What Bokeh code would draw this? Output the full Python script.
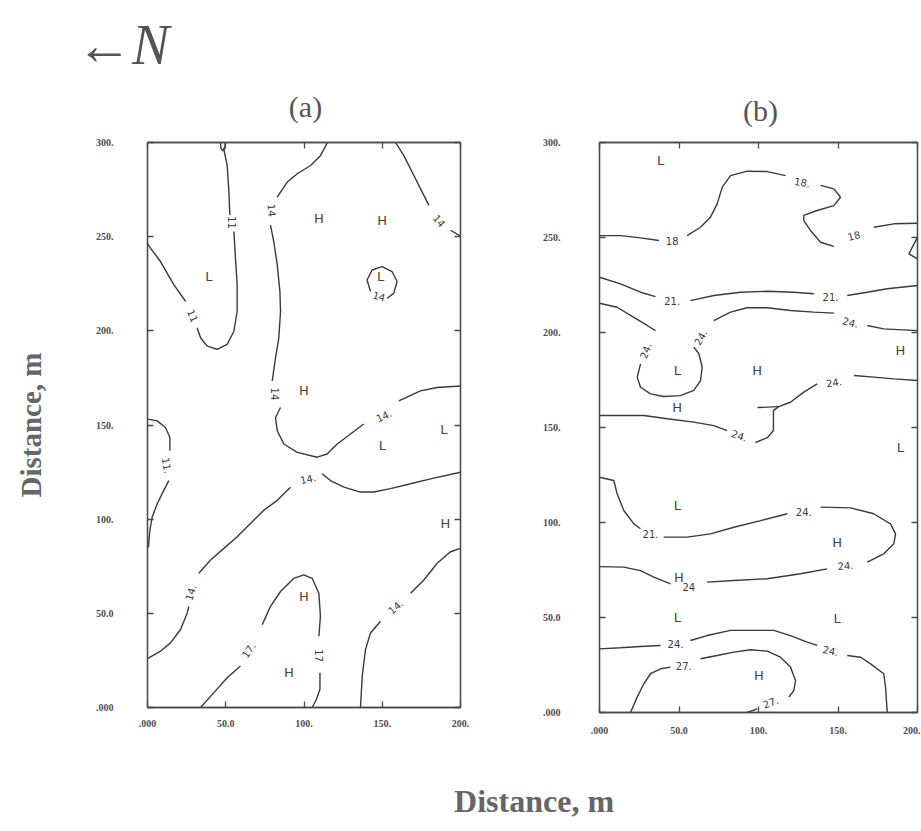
from bokeh.plotting import figure
from bokeh.models import LinearAxis, FixedTicker, ColumnDataSource, Range1d, Label
from bokeh.layouts import row, column
from bokeh.embed import file_html
from bokeh.resources import INLINE
from bokeh.core.properties import value

# ---------------- axes ----------------
X_TICKS = [0, 50, 100, 150, 200]
X_TICK_LABELS = [".000", "50.0", "100.", "150.", "200."]
Y_TICKS = [0, 50, 100, 150, 200, 250, 300]
Y_TICK_LABELS = [".000", "50.0", "100.", "150.", "200.", "250.", "300."]

# ---------------- panel (a) contour lines ----------------
A_LOOP_X = [46.6, 46.9, 48.2, 49.4, 49.6]
A_LOOP_Y = [300, 296.8, 295.6, 296.8, 300]

A11_1_X = [48.6, 50.9, 52.0, 52.6]
A11_1_Y = [297.0, 287.9, 273.8, 261.5]
A11_2_X = [55.2, 56.2, 57.3, 57.3, 55.2, 50.9, 44.5, 38.1, 33.9, 31.7]
A11_2_Y = [252.7, 238.6, 224.5, 210.4, 199.8, 192.8, 190.2, 191.9, 196.3, 201.6]
A11_3_X = [24.3, 16.8, 8.3, 1.9, 0]
A11_3_Y = [215.7, 224.5, 236.8, 243.9, 246.5]

A14M_1_X = [115, 110.5, 104.2, 95.7, 89.3, 85.0, 82.9]
A14M_1_Y = [300, 293.0, 287.8, 283.4, 279.0, 273.7, 271.0]
A14M_2_X = [78.6, 80.7, 82.9, 84.6, 85.0, 83.9, 81.8, 79.7]
A14M_2_Y = [256.1, 247.3, 235.0, 220.9, 210.3, 196.2, 185.7, 173.4]
A14M_3_X = [85.0, 81.8, 82.9, 87.1, 95.7, 108.4, 114.8, 121.2, 129.7, 138.2]
A14M_3_Y = [159.3, 154.0, 147.0, 139.9, 135.5, 132.9, 134.6, 139.9, 145.2, 150.5]
A14M_4_X = [160.6, 174.4, 185.1, 200]
A14M_4_Y = [162.8, 168.1, 169.9, 170.7]

A14R_1_X = [158.5, 163.8, 170.2, 176.6, 179.8]
A14R_1_Y = [300, 293.0, 282.5, 271.9, 266.6]
A14R_2_X = [193.6, 199.0, 200]
A14R_2_Y = [253.4, 250.8, 250.3]

A14C_X = [142.5, 140.3, 143.5, 149.9, 156.3, 159.5, 157.4, 153.2]
A14C_Y = [220.9, 227.0, 232.3, 234.1, 231.4, 226.2, 220.0, 217.3]

A11L_1_X = [0, 6.2, 11.5, 14.3, 14.3]
A11L_1_Y = [153.1, 152.2, 148.7, 143.4, 136.4]
A11L_2_X = [13.6, 10.4, 6.2, 3.0, 1.5, 0.6]
A11L_2_Y = [120.5, 115.3, 108.2, 101.2, 94.1, 85.0]

A14D_1_X = [0, 8.3, 14.7, 21.1, 25.4, 26.4]
A14D_1_Y = [26.0, 29.9, 34.3, 41.4, 50.2, 53.7]
A14D_2_X = [32.8, 40.3, 48.8, 57.3, 65.8, 74.3, 82.9, 91.4]
A14D_2_Y = [71.3, 78.3, 84.5, 90.7, 97.7, 104.7, 110.0, 117.0]
A14D_3_X = [111.6, 116.9, 125.5, 136.1, 144.6, 155.3, 168.1, 180.8, 200]
A14D_3_Y = [124.1, 120.5, 117.0, 114.4, 114.4, 116.2, 118.8, 121.4, 124.9]

A17_1_X = [33.9, 42.4, 50.9, 59.4]
A17_1_Y = [0, 7.9, 15.8, 22.0]
A17_2_X = [73.3, 78.6, 85.0, 93.5, 99.9, 105.2, 109.5, 110.5, 109.5]
A17_2_Y = [44.0, 53.7, 61.6, 68.6, 70.4, 68.6, 60.7, 48.4, 37.8]
A17_3_X = [110.2, 110.2, 108.0, 105.2]
A17_3_Y = [18.5, 9.7, 4.4, 0]

A14B_1_X = [136.1, 137.2, 139.3, 142.5, 148.9]
A14B_1_Y = [0, 16.7, 30.8, 39.6, 45.8]
A14B_2_X = [168.1, 176.6, 185.1, 193.6, 200]
A14B_2_Y = [60.7, 67.7, 76.6, 82.7, 84.5]

A_LAB_X = [54.2, 29.0, 79.5, 81.5, 151.0, 186.5, 148.0, 12.5, 27.5, 102.5, 64.5, 109.8, 158.5]
A_LAB_Y = [257.5, 208.0, 264.0, 166.5, 155.0, 258.5, 218.5, 128.5, 61.0, 121.5, 30.5, 27.5, 53.5]
A_LAB_TEXT = ["11", "11", "14", "14", "14.", "14", "14", "11.", "14.", "14.", "17.", "17", "14."]
A_LAB_ANGLE = [-90, -66, -85, -90, 25, -50, -15, -80, 72, 12, 55, -90, 40]

A_H_X = [109.5, 150.0, 99.9, 190.4, 99.9, 90.3]
A_H_Y = [259.6, 258.7, 168.1, 97.7, 59.0, 18.5]
A_L_X = [39.2, 148.9, 189.4, 150.0]
A_L_Y = [228.8, 228.8, 147.8, 139.0]

# ---------------- panel (b) contour lines ----------------
B18_1_X = [0, 13.2, 25.8, 37.3]
B18_1_Y = [251.0, 251.0, 249.8, 248.4]
B18_2_X = [55.1, 63.5, 69.8, 74.0, 77.2, 82.4, 92.9, 105.5, 117.0]
B18_2_Y = [251.0, 255.4, 260.7, 267.7, 276.5, 282.6, 284.9, 284.7, 282.6]
B18_3_X = [139.0, 147.4, 151.6, 147.4, 136.9, 128.5, 128.5, 132.7, 139.0, 147.4]
B18_3_Y = [277.4, 275.6, 271.2, 266.8, 264.2, 261.6, 258.9, 253.7, 247.5, 245.3]
B18_4_X = [172.5, 185.1, 200]
B18_4_Y = [255.4, 257.2, 257.5]
B18_5_X = [200, 194.6, 200]
B18_5_Y = [250.2, 241.4, 238.8]

B21_1_X = [0, 13.2, 25.8, 35.2]
B21_1_Y = [229.1, 225.6, 221.2, 218.9]
B21_2_X = [57.2, 71.9, 88.7, 105.5, 122.2, 134.8]
B21_2_Y = [216.8, 219.5, 221.2, 221.7, 221.2, 220.4]
B21_3_X = [155.8, 168.4, 181.0, 200]
B21_3_Y = [219.5, 221.2, 223.0, 224.7]

B24U_1_X = [0, 11.1, 21.6, 30.0, 35.2]
B24U_1_Y = [215.4, 213.3, 208.0, 203.7, 201.0]
B24U_2_X = [25.8, 23.7, 25.8, 32.1, 40.4, 50.9, 59.3, 63.5, 64.6, 62.5, 59.3]
B24U_2_Y = [183.5, 176.5, 171.2, 167.7, 166.3, 166.8, 169.5, 174.7, 181.7, 188.8, 192.3]
B24U_3_X = [71.9, 82.4, 92.9, 105.5, 120.1, 134.8, 147.4]
B24U_3_Y = [206.3, 210.7, 213.0, 213.0, 211.6, 210.7, 210.2]
B24U_4_X = [168.4, 178.8, 200]
B24U_4_Y = [203.7, 201.9, 201.0]

B24M_1_X = [200, 185.1, 172.5, 160.0]
B24M_1_Y = [174.7, 175.6, 176.5, 177.4]
B24M_2_X = [136.9, 128.5, 120.1, 112.6, 109.4, 109.4, 105.7, 98.1]
B24M_2_Y = [173.0, 168.6, 163.3, 161.0, 158.9, 148.4, 144.7, 142.1]
B24M_S_X = [112.6, 99.4]
B24M_S_Y = [161.0, 160.5]
B24M_3_X = [80.3, 71.9, 59.3, 42.6, 27.9, 0]
B24M_3_Y = [148.4, 151.0, 152.8, 154.6, 156.3, 156.3]

B24L_1_X = [0, 9.0, 11.1, 15.3, 21.6, 25.8]
B24L_1_Y = [123.8, 122.1, 115.1, 106.3, 99.3, 96.7]
B24L_2_X = [40.4, 55.1, 69.8, 84.5, 101.3, 118.1]
B24L_2_Y = [92.3, 92.3, 94.0, 97.5, 101.0, 104.6]
B24L_3_X = [139.0, 157.9, 172.5, 183.0, 186.2, 185.1, 178.8, 168.4]
B24L_3_Y = [108.1, 107.7, 104.6, 99.3, 94.0, 88.8, 83.5, 79.1]
B24L_4_X = [143.2, 126.4, 105.5, 84.5, 67.7]
B24L_4_Y = [75.6, 73.0, 70.4, 69.5, 68.6]
B24L_5_X = [44.7, 34.2, 25.8, 15.3, 0]
B24L_5_Y = [67.7, 71.2, 74.7, 76.5, 76.8]

B24B_1_X = [0, 13.2, 25.8, 38.4]
B24B_1_Y = [33.5, 34.1, 34.7, 35.3]
B24B_2_X = [57.2, 67.7, 82.4, 97.1, 109.6, 120.1, 130.6, 136.9]
B24B_2_Y = [37.9, 40.5, 43.2, 43.2, 43.2, 40.5, 37.0, 35.3]
B24B_3_X = [155.8, 164.2, 170.5, 178.8, 179.9, 181.0]
B24B_3_Y = [30.0, 29.1, 25.6, 20.4, 13.3, 0]

B27_1_X = [19.5, 23.7, 27.9, 32.1, 38.4, 44.7]
B27_1_Y = [0, 8.1, 15.1, 20.4, 23.0, 23.9]
B27_2_X = [63.5, 74.0, 84.5, 95.0, 105.5, 113.8, 120.1, 123.3, 122.2, 119.1]
B27_2_Y = [28.3, 30.0, 31.8, 33.0, 32.3, 29.1, 23.9, 16.8, 11.6, 8.1]
B27_3_X = [99.2, 92.9]
B27_3_Y = [1.9, 0]

B_LAB_X = [45.7, 127.5, 160.0, 45.7, 145.3, 28.9, 63.5, 157.9, 147.4, 88.0, 32.1, 128.5, 154.7, 56.2, 47.8, 145.3, 53.0, 107.6]
B_LAB_Y = [248.4, 279.1, 251.0, 216.8, 218.6, 190.5, 197.5, 205.4, 173.8, 145.8, 94.0, 105.4, 77.4, 65.9, 35.8, 32.6, 24.7, 5.4]
B_LAB_TEXT = ["18", "18.", "18", "21.", "21.", "24.", "24.", "24.", "24.", "24.", "21.", "24.", "24.", "24", "24.", "24.", "27.", "27."]
B_LAB_ANGLE = [0, -10, 15, 0, 0, 70, 60, -15, 10, -20, 0, 0, 5, 0, 0, -12, 0, 20]

B_H_X = [99.2, 189.3, 48.9, 49.9, 149.5, 100.2]
B_H_Y = [180.0, 190.5, 160.7, 71.2, 89.6, 19.5]
B_L_X = [38.4, 48.9, 189.3, 48.9, 48.9, 149.5]
B_L_Y = [290.5, 180.0, 139.6, 108.9, 50.2, 49.3]

A_SEGMENTS = [
    (A_LOOP_X, A_LOOP_Y), (A11_1_X, A11_1_Y), (A11_2_X, A11_2_Y), (A11_3_X, A11_3_Y),
    (A14M_1_X, A14M_1_Y), (A14M_2_X, A14M_2_Y), (A14M_3_X, A14M_3_Y), (A14M_4_X, A14M_4_Y),
    (A14R_1_X, A14R_1_Y), (A14R_2_X, A14R_2_Y), (A14C_X, A14C_Y),
    (A11L_1_X, A11L_1_Y), (A11L_2_X, A11L_2_Y),
    (A14D_1_X, A14D_1_Y), (A14D_2_X, A14D_2_Y), (A14D_3_X, A14D_3_Y),
    (A17_1_X, A17_1_Y), (A17_2_X, A17_2_Y), (A17_3_X, A17_3_Y),
    (A14B_1_X, A14B_1_Y), (A14B_2_X, A14B_2_Y),
]
B_SEGMENTS = [
    (B18_1_X, B18_1_Y), (B18_2_X, B18_2_Y), (B18_3_X, B18_3_Y), (B18_4_X, B18_4_Y), (B18_5_X, B18_5_Y),
    (B21_1_X, B21_1_Y), (B21_2_X, B21_2_Y), (B21_3_X, B21_3_Y),
    (B24U_1_X, B24U_1_Y), (B24U_2_X, B24U_2_Y), (B24U_3_X, B24U_3_Y), (B24U_4_X, B24U_4_Y),
    (B24M_1_X, B24M_1_Y), (B24M_2_X, B24M_2_Y), (B24M_S_X, B24M_S_Y), (B24M_3_X, B24M_3_Y),
    (B24L_1_X, B24L_1_Y), (B24L_2_X, B24L_2_Y), (B24L_3_X, B24L_3_Y), (B24L_4_X, B24L_4_Y), (B24L_5_X, B24L_5_Y),
    (B24B_1_X, B24B_1_Y), (B24B_2_X, B24B_2_Y), (B24B_3_X, B24B_3_Y),
    (B27_1_X, B27_1_Y), (B27_2_X, B27_2_Y), (B27_3_X, B27_3_Y),
]

LINE = "#3a3a3a"
FRAME = "#4a4a4a"
TEXT = "#555555"
SERIF = "Liberation Serif"


def style_axis(ax, ticks, labels, standoff, show):
    ax.ticker = FixedTicker(ticks=ticks)
    ax.major_label_overrides = {t: l for t, l in zip(ticks, labels)}
    ax.major_tick_in = 6
    ax.major_tick_out = 0
    ax.minor_tick_line_color = None
    ax.axis_line_color = FRAME
    ax.axis_line_width = 1.3
    ax.major_tick_line_color = FRAME
    ax.major_tick_line_width = 1.3
    ax.major_label_standoff = standoff
    ax.major_label_text_font = SERIF
    ax.major_label_text_font_style = "bold"
    if show:
        ax.major_label_text_font_size = "10px"
        ax.major_label_text_color = "#4d4d4d"
    else:
        ax.major_label_text_font_size = "1px"
        ax.major_label_text_color = None


def blank_fig(w, h):
    f = figure(width=w, height=h, x_range=Range1d(0, 1), y_range=Range1d(0, 1),
               x_axis_type=None, y_axis_type=None, min_border=0,
               output_backend="svg", toolbar_location=None,
               background_fill_color="white", border_fill_color="white")
    f.outline_line_color = None
    return f


def make_panel(segs, lab_x, lab_y, lab_t, lab_a, hx, hy, lx, ly,
               fw, fh, bl, bt, br, bb, ystand, xstand, ylabel=None):
    p = figure(frame_width=fw, frame_height=fh,
               x_range=Range1d(0, 200), y_range=Range1d(0, 300),
               x_axis_type=None, y_axis_type=None,
               min_border_left=bl, min_border_top=bt, min_border_right=br, min_border_bottom=bb,
               output_backend="svg", toolbar_location=None,
               background_fill_color="white", border_fill_color="white")
    p.outline_line_color = FRAME
    p.outline_line_width = 1.3

    bottom = LinearAxis()
    style_axis(bottom, X_TICKS, X_TICK_LABELS, xstand, True)
    p.add_layout(bottom, "below")
    left = LinearAxis()
    style_axis(left, Y_TICKS, Y_TICK_LABELS, ystand, True)
    if ylabel:
        left.axis_label = ylabel
        left.axis_label_text_font = SERIF
        left.axis_label_text_font_style = "bold"
        left.axis_label_text_font_size = "29px"
        left.axis_label_text_color = "#666666"
        left.axis_label_standoff = 46
    p.add_layout(left, "left")
    top = LinearAxis()
    style_axis(top, X_TICKS, X_TICK_LABELS, 0, False)
    p.add_layout(top, "above")
    right = LinearAxis()
    style_axis(right, Y_TICKS, Y_TICK_LABELS, 0, False)
    p.add_layout(right, "right")

    p.multi_line(xs=[s[0] for s in segs], ys=[s[1] for s in segs],
                 line_color=LINE, line_width=1.4)

    src = ColumnDataSource(dict(x=lab_x, y=lab_y, t=lab_t, a=lab_a))
    p.text(x="x", y="y", text="t", angle="a", angle_units="deg", source=src,
           text_align="center", text_baseline="middle",
           text_font=value("DejaVu Sans"), text_font_size=value("10px"), text_color="#3a3a3a")

    p.text(x=hx, y=hy, text=["H"] * len(hx), text_align="center", text_baseline="middle",
           text_font=value("DejaVu Sans"), text_font_size=value("13px"), text_color="#444444")
    p.text(x=lx, y=ly, text=["L"] * len(lx), text_align="center", text_baseline="middle",
           text_font=value("DejaVu Sans"), text_font_size=value("13px"), text_color="#444444")
    return p


TOP_H = 128
ptop = blank_fig(920, TOP_H)
ptop.add_layout(Label(x=0.082, y=1 - 44 / TOP_H, text="\u2190N", text_align="left",
                      text_baseline="middle", text_font=SERIF,
                      text_font_size="56px", text_font_style="italic",
                      text_color="#555555"))
ptop.add_layout(Label(x=305 / 920, y=1 - 106 / TOP_H, text="(a)", text_align="center",
                      text_baseline="middle", text_font=SERIF, text_font_size="30px",
                      text_color=TEXT))
ptop.add_layout(Label(x=760 / 920, y=1 - 110 / TOP_H, text="(b)", text_align="center",
                      text_baseline="middle", text_font=SERIF, text_font_size="30px",
                      text_color=TEXT))

pa = make_panel(A_SEGMENTS, A_LAB_X, A_LAB_Y, A_LAB_TEXT, A_LAB_ANGLE,
                A_H_X, A_H_Y, A_L_X, A_L_Y,
                fw=313, fh=565, bl=147, bt=142 - TOP_H, br=20, bb=40, ystand=34, xstand=12,
                ylabel="Distance, m")
pb = make_panel(B_SEGMENTS, B_LAB_X, B_LAB_Y, B_LAB_TEXT, B_LAB_ANGLE,
                B_H_X, B_H_Y, B_L_X, B_L_Y,
                fw=318, fh=570, bl=119, bt=142 - TOP_H, br=3, bb=35, ystand=39, xstand=14)

pbot = blank_fig(920, 76)
pbot.add_layout(Label(x=0.58, y=0.30, text="Distance, m", text_align="center",
                      text_baseline="middle", text_font=SERIF, text_font_style="bold",
                      text_font_size="32px", text_color="#666666"))

layout = column(ptop, row(pa, pb), pbot)
open("out.html", "w").write(file_html(layout, INLINE))
